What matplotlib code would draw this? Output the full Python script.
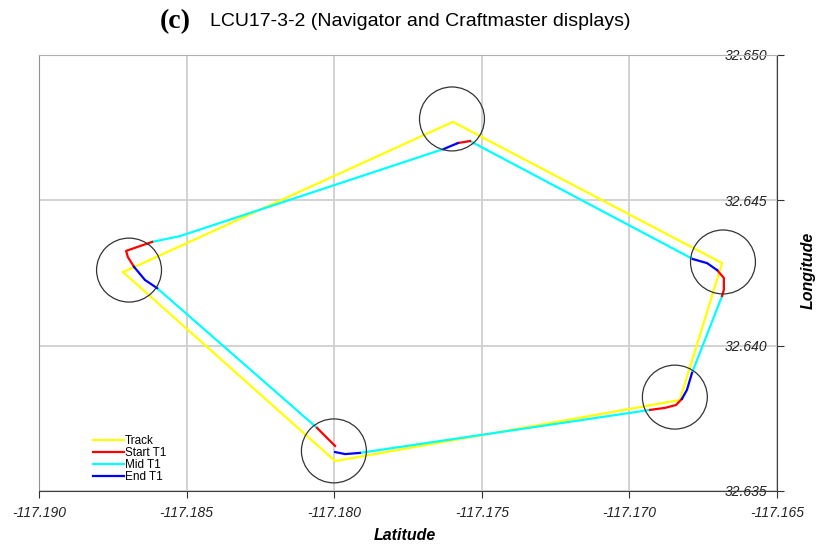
import matplotlib
matplotlib.use("Agg")
import matplotlib.pyplot as plt
from matplotlib.patches import Circle

# boat track (planned route)
track_lon = [-117.18715, -117.17997, -117.16829, -117.16686, -117.17598, -117.18715]
track_lat = [32.64253, 32.63603, 32.63813, 32.64284, 32.64770, 32.64253]

# waypoint circles
circle_lon = [-117.18695, -117.18001, -117.16846, -117.16683, -117.17601]
circle_lat = [32.64260, 32.63638, 32.63823, 32.64288, 32.64780]
circle_r = 0.0011

# recorded track pieces
start_lon = [[-117.16930, -117.16879, -117.16842, -117.16822],
             [-117.16686, -117.16680, -117.16680, -117.16703],
             [-117.17540, -117.17581],
             [-117.18617, -117.18705, -117.18699, -117.18678],
             [-117.18058, -117.17997]]
start_lat = [[32.63779, 32.63786, 32.63796, 32.63817],
             [32.64171, 32.64192, 32.64233, 32.64260],
             [32.64704, 32.64697],
             [32.64357, 32.64326, 32.64305, 32.64271],
             [32.63717, 32.63655]]

mid_lon = [[-117.17913, -117.16930],
           [-117.16788, -117.16686],
           [-117.16785, -117.17540],
           [-117.17628, -117.18522, -117.18617],
           [-117.18600, -117.18058]]
mid_lat = [[32.63631, 32.63779],
           [32.63906, 32.64171],
           [32.64298, 32.64704],
           [32.64677, 32.64377, 32.64357],
           [32.64198, 32.63717]]

end_lon = [[-117.16822, -117.16805, -117.16788],
           [-117.16703, -117.16737, -117.16785],
           [-117.17581, -117.17628],
           [-117.18678, -117.18641, -117.18600],
           [-117.17997, -117.17963, -117.17913]]
end_lat = [[32.63817, 32.63848, 32.63906],
           [32.64260, 32.64284, 32.64298],
           [32.64697, 32.64677],
           [32.64271, 32.64226, 32.64198],
           [32.63634, 32.63627, 32.63631]]

x_ticks = [-117.190, -117.185, -117.180, -117.175, -117.170, -117.165]
y_ticks = [32.635, 32.640, 32.645, 32.650]

fig = plt.figure(figsize=(8.19, 5.46), dpi=100)
ax = fig.add_axes([39/819, 1-491/546, 738/819, 436/546])

ax.plot(track_lon, track_lat, color="#ffff00", lw=1.6, label="Track", zorder=3)
for i in range(len(mid_lon)):
    ax.plot(mid_lon[i], mid_lat[i], color="#00ffff", lw=1.6,
            label="Mid T1" if i == 0 else None, zorder=4)
for i in range(len(start_lon)):
    ax.plot(start_lon[i], start_lat[i], color="#ff0000", lw=1.6,
            label="Start T1" if i == 0 else None, zorder=5)
for i in range(len(end_lon)):
    ax.plot(end_lon[i], end_lat[i], color="#0000ff", lw=1.6,
            label="End T1" if i == 0 else None, zorder=5)

for cx, cy in zip(circle_lon, circle_lat):
    ax.add_patch(Circle((cx, cy), circle_r, fill=False, ec="#333333", lw=0.9, zorder=6))

ax.set_xlim(-117.190, -117.165)
ax.set_ylim(32.635, 32.650)
ax.set_xticks(x_ticks)
ax.set_yticks(y_ticks)
ax.set_xticklabels([f"{v:.3f}" for v in x_ticks])
ax.set_yticklabels([f"{v:.3f}" for v in y_ticks])
ax.grid(True, color="#cfcfcf", lw=1.3, zorder=0)
ax.set_axisbelow(True)

ax.spines["top"].set_color("#b0b0b0")
ax.spines["left"].set_color("#909090")
ax.spines["bottom"].set_color("#404040")
ax.spines["right"].set_color("#404040")

ax.yaxis.tick_right()
ax.tick_params(axis="x", direction="out", length=5, color="#303030", pad=6,
               labelsize=10, labelcolor="#222222")
ax.tick_params(axis="y", direction="out", length=5, color="#303030", pad=-12,
               labelsize=10, labelcolor="#222222")
for lab in ax.get_xticklabels() + ax.get_yticklabels():
    lab.set_fontstyle("italic")
    lab.set_family("Liberation Sans")
for lab in ax.get_yticklabels():
    lab.set_horizontalalignment("right")

# legend order as in the reference
h, l = ax.get_legend_handles_labels()
order = [l.index(n) for n in ["Track", "Start T1", "Mid T1", "End T1"]]
ax.legend([h[i] for i in order], [l[i] for i in order], loc="lower left",
          bbox_to_anchor=(0.065, 0.004), frameon=False,
          labelspacing=0.0, handlelength=2.6, handletextpad=0.1, borderpad=0,
          prop={"family": "Liberation Sans", "size": 8.5})

fig.text(160/819, 1-22/546, "(c)", family="Liberation Serif", weight="bold",
         fontsize=20, va="center", ha="left")
fig.text(210/819, 1-22/546, "LCU17-3-2 (Navigator and Craftmaster displays)",
         family="Liberation Sans", fontsize=14, va="center", ha="left")
fig.text(405/819, 1-535/546, "Latitude", family="Liberation Sans",
         weight="bold", style="italic", fontsize=11.5, ha="center", va="center")
fig.text(808/819, 1-270/546, "Longitude", family="Liberation Sans",
         weight="bold", style="italic", fontsize=11.5, ha="center", va="center",
         rotation=90)

fig.savefig("out.png", dpi=100)
